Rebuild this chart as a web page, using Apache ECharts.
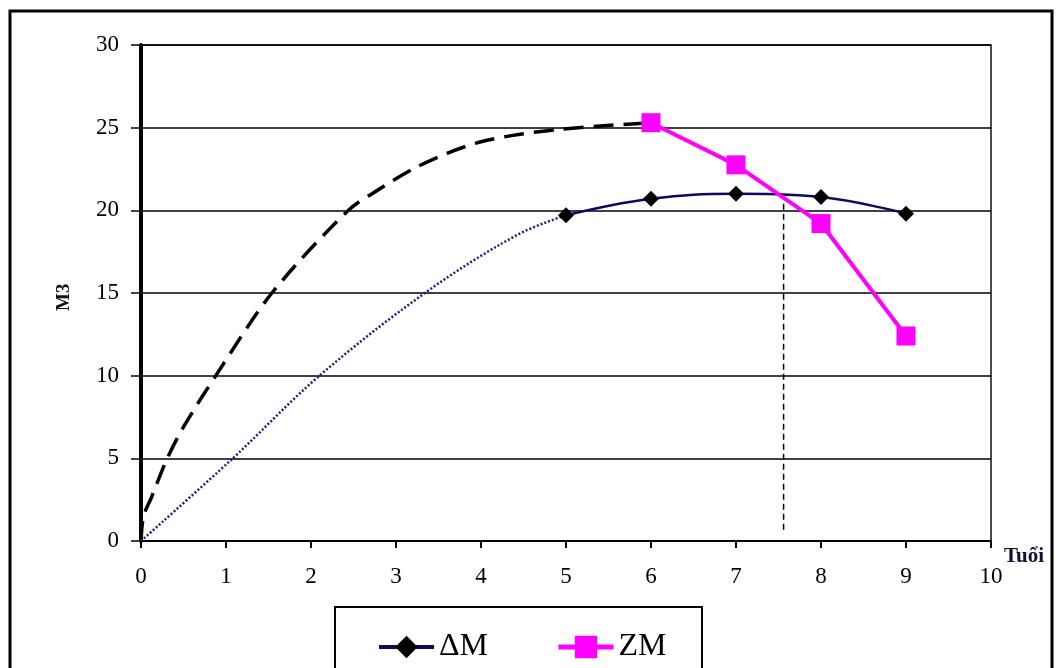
<!DOCTYPE html>
<html>
<head>
<meta charset="utf-8">
<script src="https://cdn.jsdelivr.net/npm/echarts@6/dist/echarts.min.js"></script>
<style>html,body{margin:0;padding:0;background:#fff}#c{width:1056px;height:668px}</style>
</head>
<body>
<div id="c"></div>
<script>
// Age ticks
var xTicks = [0,1,2,3,4,5,6,7,8,9,10];
// ΔM series (age, m3)
var dmAges = [5, 6, 7, 8, 9];
var dmVals = [19.7, 20.7, 21.0, 20.8, 19.8];
// ZM series
var zmAges = [6, 7, 8, 9];
var zmVals = [25.3, 22.75, 19.2, 12.4];
// Dashed black curve
var dashAges = [0, 0.03, 0.12, 0.3, 0.5, 0.88, 1.54, 2.44, 2.81, 3.2, 3.6, 4.0, 4.46, 4.93, 5.4, 6.0];
var dashVals = [0, 1.5, 2.6, 4.9, 6.9, 10, 15, 20, 21.3, 22.5, 23.45, 24.15, 24.6, 24.9, 25.1, 25.3];
// Dotted blue curve
var dotAges = [0, 1.08, 2.1, 3.34, 4.42, 5];
var dotVals = [0, 5, 10, 15, 18.5, 19.7];
// Vertical dashed marker
var vAge = 7.56;
var vVals = [21.0, 0.5];

function pairs(xs, ys){ return xs.map(function(x,i){ return [x, ys[i]]; }); }

var serif = "'Liberation Serif','Times New Roman',serif";
var chart = echarts.init(document.getElementById('c'), null, {renderer:'canvas'});
chart.setOption({
  animation: false,
  backgroundColor: '#fff',
  grid: {left: 141, right: 65, top: 45, bottom: 127, show: true, borderColor: '#111', borderWidth: 1.5},
  xAxis: {
    type: 'value', min: 0, max: 10, interval: 1,
    axisLine: {onZero: false, lineStyle: {color: '#000', width: 2}},
    axisTick: {show: true, inside: false, length: 7, lineStyle: {color: '#000', width: 2}},
    axisLabel: {margin: 24, fontFamily: serif, fontSize: 23, color: '#000'},
    splitLine: {show: false}
  },
  yAxis: {
    type: 'value', min: 0, max: 30, interval: 5,
    axisLine: {show: true, lineStyle: {color: '#000', width: 4}},
    axisTick: {show: true, inside: false, length: 10, lineStyle: {color: '#000', width: 1.5}},
    axisLabel: {margin: 22, fontFamily: serif, fontSize: 23, color: '#000'},
    splitLine: {show: true, lineStyle: {color: '#000', width: 1.5}}
  },
  legend: {
    data: [
      {name: 'ΔM', lineStyle: {width: 4, color: '#0a0a60'}},
      {name: 'ZM', lineStyle: {width: 5, color: '#ff00ff'}}
    ],
    left: 372, top: 626,
    itemWidth: 55, itemHeight: 28, itemGap: 68,
    textStyle: {fontFamily: serif, fontSize: 32, color: '#000'}
  },
  graphic: [
    {type: 'text', left: 1004, top: 546, z: 10,
     style: {text: 'Tuổi', font: "bold 21px 'Liberation Serif', serif", fill: '#111133'}},
    {type: 'text', x: 55, y: 311, rotation: Math.PI/2, z: 10,
     style: {text: 'M3', font: "bold 19px 'Liberation Serif', serif", fill: '#111'}},
    {type: 'rect', z: 20, shape: {x: 10, y: 11, width: 1042, height: 700},
     style: {fill: 'none', stroke: '#000', lineWidth: 3}},
    {type: 'rect', z: 20, shape: {x: 335, y: 607, width: 367, height: 100},
     style: {fill: 'none', stroke: '#000', lineWidth: 2}}
  ],
  series: [
    {name: 'dash', type: 'line', data: pairs(dashAges, dashVals), smooth: 0.3,
     showSymbol: false, symbol: 'none', lineStyle: {color: '#000', width: 3.5, type: [20, 10]}, z: 3},
    {name: 'dot', type: 'line', data: pairs(dotAges, dotVals), smooth: 0.35,
     showSymbol: false, symbol: 'none', lineStyle: {color: '#1c1c8c', width: 2.5, type: [2, 2]}, z: 3},
    {name: 'vline', type: 'line', data: [[vAge, vVals[0]], [vAge, vVals[1]]],
     showSymbol: false, symbol: 'none', lineStyle: {color: '#000', width: 1.5, type: [6, 4]}, z: 3},
    {name: 'ΔM', type: 'line', data: pairs(dmAges, dmVals), smooth: 0.4,
     symbol: 'diamond', symbolSize: 16, itemStyle: {color: '#000'},
     lineStyle: {color: '#0a0a60', width: 2.5}, z: 5},
    {name: 'ZM', type: 'line', data: pairs(zmAges, zmVals),
     symbol: 'rect', symbolSize: 19, itemStyle: {color: '#ff00ff'},
     lineStyle: {color: '#ff00ff', width: 4}, z: 6}
  ]
});
</script>
</body>
</html>
